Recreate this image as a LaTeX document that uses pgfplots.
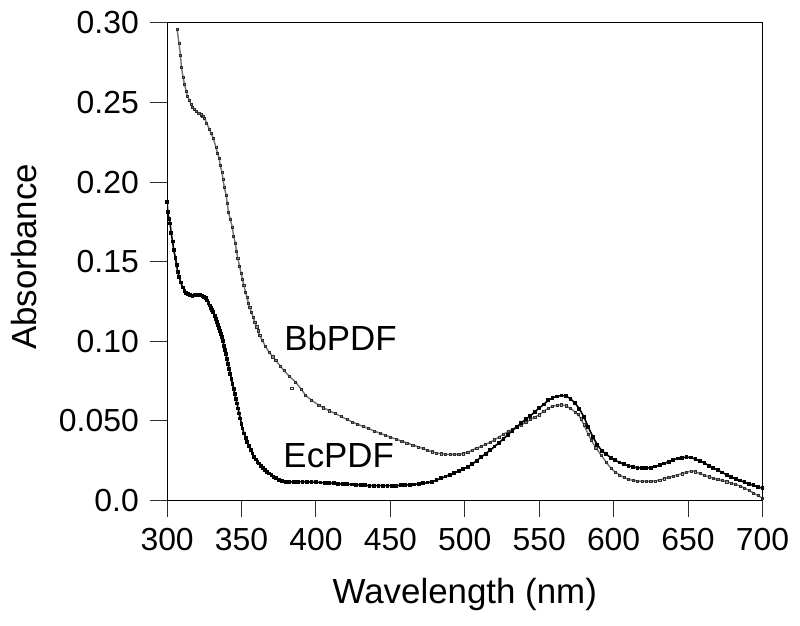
\documentclass[border=0pt]{standalone}
\usepackage{fontspec}
\setmainfont{Liberation Sans}
\usepackage{pgfplots}
\pgfplotsset{compat=1.18}
\definecolor{axisgray}{RGB}{45,45,45}

% absorbance spectra
\pgfplotstableread{
x y
300.0 0.1877
300.4 0.1810
301.2 0.1770
302.0 0.1740
302.7 0.1680
303.7 0.1626
304.4 0.1574
305.6 0.1522
306.4 0.1478
307.1 0.1436
308.2 0.1401
309.1 0.1369
310.5 0.1338
311.6 0.1317
312.7 0.1303
313.8 0.1296
315.5 0.1290
317.1 0.1286
318.8 0.1288
320.5 0.1290
322.2 0.1289
323.8 0.1286
325.0 0.1278
326.1 0.1269
327.0 0.1256
327.8 0.1240
328.6 0.1224
329.4 0.1207
330.2 0.1195
331.0 0.1182
332.0 0.1160
332.8 0.1140
333.5 0.1120
334.1 0.1102
334.8 0.1083
335.5 0.1063
336.1 0.1045
336.8 0.1025
337.5 0.1000
338.2 0.0970
338.9 0.0945
339.5 0.0920
340.2 0.0890
341.0 0.0858
341.7 0.0827
342.5 0.0793
343.2 0.0763
343.9 0.0733
344.7 0.0701
345.4 0.0670
346.2 0.0639
346.9 0.0608
347.7 0.0577
348.4 0.0545
349.2 0.0514
349.9 0.0482
350.6 0.0451
351.7 0.0420
352.8 0.0392
353.9 0.0367
355.0 0.0341
356.2 0.0317
357.3 0.0294
358.4 0.0273
359.6 0.0256
360.7 0.0242
361.8 0.0232
363.2 0.0216
364.6 0.0202
366.0 0.0190
367.3 0.0180
368.7 0.0168
370.1 0.0157
371.5 0.0147
373.0 0.0138
375.0 0.0130
377.0 0.0123
379.7 0.0117
382 0.0116
385 0.0116
388 0.0117
391 0.0117
394 0.0116
397 0.0115
400 0.0114
403 0.0112
406 0.0110
409 0.0108
412 0.0107
415 0.0105
418 0.0103
421 0.0101
424 0.0100
427 0.0098
430 0.0096
433 0.0094
436 0.0092
439 0.0092
442 0.0092
445 0.0092
448 0.0092
451 0.0092
454 0.0092
457 0.0094
460 0.0096
463 0.0098
466 0.0100
469 0.0103
472 0.0107
475 0.0112
478 0.0117
481 0.0127
484 0.0138
487 0.0149
490 0.0161
493 0.0172
496 0.0184
499 0.0196
502 0.0210
505 0.0228
508 0.0249
511 0.0272
514 0.0293
517 0.0314
520 0.0338
523 0.0362
526 0.0387
529 0.0412
532 0.0438
535 0.0462
538 0.0487
541 0.0509
544 0.0530
547 0.0556
550 0.0580
553 0.0602
556 0.0628
559 0.0644
562 0.0653
565 0.0659
568 0.0656
571 0.0638
574 0.0612
577 0.0575
580 0.0525
583 0.0460
586 0.0400
589 0.0350
592 0.0312
595 0.0290
598 0.0268
601 0.0252
604 0.0238
607 0.0226
610 0.0217
613 0.0210
616 0.0205
619 0.0203
622 0.0203
625 0.0205
628 0.0212
631 0.0222
634 0.0232
637 0.0243
640 0.0253
643 0.0263
646 0.0268
649 0.0271
652 0.0269
655 0.0258
658 0.0247
661 0.0235
664 0.0218
667 0.0204
670 0.0190
673 0.0175
676 0.0160
679 0.0147
682 0.0135
685 0.0124
688 0.0114
691 0.0103
694 0.0094
697 0.0085
700 0.0075
}\ecpdf

\pgfplotstableread{
x y
306.7 0.2960
308.0 0.2870
309.0 0.2795
309.6 0.2720
310.7 0.2660
311.6 0.2615
312.9 0.2570
313.6 0.2540
315.0 0.2513
316.0 0.2490
317.0 0.2470
318.4 0.2456
319.8 0.2444
321.2 0.2433
322.7 0.2423
323.9 0.2413
325.0 0.2403
326.5 0.2371
328.3 0.2334
329.4 0.2309
331.0 0.2277
332.8 0.2219
333.9 0.2180
335.0 0.2148
335.7 0.2104
336.8 0.2064
337.5 0.2020
338.4 0.1968
339.7 0.1916
340.4 0.1866
341.2 0.1812
342.4 0.1766
343.9 0.1714
344.6 0.1661
345.9 0.1614
346.6 0.1565
347.5 0.1520
348.6 0.1473
349.7 0.1428
350.6 0.1390
351.5 0.1353
352.6 0.1310
353.7 0.1275
354.6 0.1240
355.5 0.1213
356.6 0.1182
357.8 0.1150
358.9 0.1119
360.2 0.1091
361.1 0.1066
362.2 0.1035
364.0 0.1004
366.0 0.0968
368.5 0.0931
371.0 0.0902
373.0 0.0879
376.0 0.0845
378.5 0.0816
381.9 0.0781
386.3 0.0743
390 0.0700
393 0.0660
397 0.0630
401.9 0.0597
405 0.0582
409 0.0563
413.1 0.0545
417 0.0526
421 0.0508
424.2 0.0493
428 0.0478
432 0.0463
435.4 0.0451
439 0.0436
443 0.0422
446.6 0.0409
450 0.0397
454 0.0384
457.7 0.0371
461 0.0361
465 0.0348
468.9 0.0336
472 0.0325
475 0.0314
478 0.0305
481 0.0298
484 0.0293
487 0.0290
490 0.0288
493 0.0288
496 0.0289
499 0.0293
502 0.0301
505 0.0316
508 0.0328
511 0.0340
514 0.0351
517 0.0364
520 0.0380
523 0.0398
526 0.0415
529 0.0432
532 0.0447
535 0.0462
538 0.0474
541 0.0490
544 0.0507
547 0.0522
550 0.0538
553 0.0559
556 0.0578
559 0.0590
562 0.0597
565 0.0601
568 0.0594
571 0.0578
574 0.0555
576 0.0540
578 0.0513
580 0.0475
583 0.0415
585 0.0378
588 0.0330
591.6 0.0284
595 0.0240
598.3 0.0200
601 0.0178
604 0.0160
607 0.0143
610 0.0132
613 0.0125
616 0.0121
619 0.0120
622 0.0120
625 0.0120
628 0.0122
631 0.0128
634 0.0136
637 0.0144
640 0.0152
643 0.0160
646 0.0167
649 0.0175
652 0.0185
655 0.0180
658 0.0168
661 0.0157
664 0.0148
667 0.0139
670 0.0131
673 0.0124
676 0.0117
679 0.0109
682 0.0100
685 0.0090
688 0.0077
691 0.0062
694 0.0046
697 0.0030
700 0.0013
}\bbpdf

\begin{document}
\begin{tikzpicture}
\begin{axis}[
    name=ax,
    scale only axis,
    width=597.3pt, height=479pt,
    xmin=300, xmax=700,
    ymin=0, ymax=0.30,
    xtick={300,350,...,700},
    xticklabels={300,350,400,450,500,550,600,650,700},
    ytick={0,0.05,0.10,0.15,0.20,0.25,0.30},
    yticklabels={0.0,0.050,0.10,0.15,0.20,0.25,0.30},
    xtick pos=bottom, ytick pos=left,
    tick align=outside,
    major tick length=17pt,
    every tick/.append style={axisgray, line width=1pt},
    every axis/.append style={line width=0.9pt},
    tick label style={font=\fontsize{32}{38}\selectfont, inner sep=11pt},
    label style={font=\fontsize{35}{42}\selectfont},
    xlabel={Wavelength (nm)},
    ylabel={Absorbance},
    xlabel style={at={(rel axis cs:0.5,-0.198)}, anchor=center},
    ylabel style={at={(rel axis cs:-0.2406,0.51)}, anchor=center},
]
\addplot[black!55, line width=1.4pt, mark=square, mark size=1.1pt,
         mark options={draw=axisgray, line width=0.5pt}] table {\bbpdf};
\addplot[only marks, mark=square, mark size=1.1pt,
         mark options={draw=axisgray, line width=0.5pt}] coordinates {(383.7,0.0706)};
\addplot[black, line width=1.6pt, mark=square*, mark size=1.1pt] table {\ecpdf};
\node[font=\fontsize{35}{42}\selectfont] at (axis cs:416.5,0.1018) {BbPDF};
\node[font=\fontsize{35}{42}\selectfont] at (axis cs:415.3,0.0282) {EcPDF};
\end{axis}
\path (ax.south west) ++(-167.7pt,-126pt) rectangle ++(800pt,628pt);
\end{tikzpicture}
\end{document}
